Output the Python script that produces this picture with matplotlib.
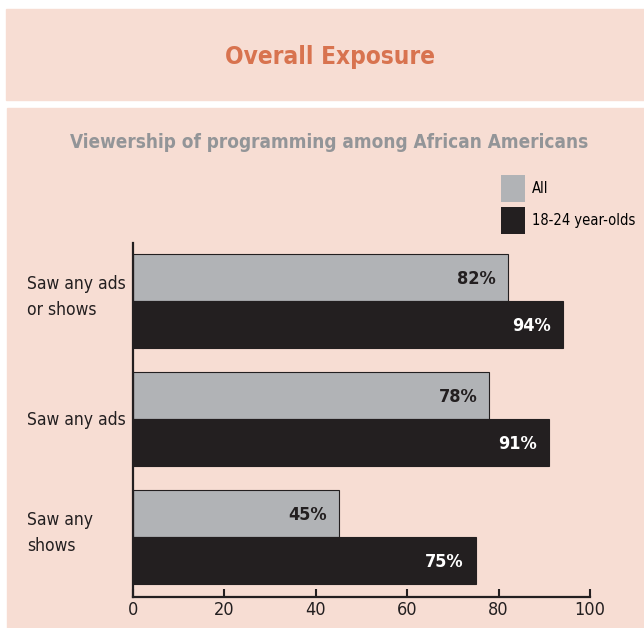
import matplotlib.pyplot as plt
import matplotlib.transforms as mtransforms
from matplotlib.patches import Rectangle, Patch

categories = ['Saw any\nshows', 'Saw any ads', 'Saw any ads\nor shows']
all_values = [45, 78, 82]
young_values = [75, 91, 94]
series_names = ['All', '18-24 year-olds']
x_ticks = [0, 20, 40, 60, 80, 100]

panel = '#F7DDD3'
gray = '#B1B3B6'
dark = '#231F20'
plt.rcParams['font.family'] = ['DejaVu Sans']
plt.rcParams['font.stretch'] = 'condensed'

W, H = 644, 628
fig = plt.figure(figsize=(W / 100, H / 100), dpi=100)
fig.patch.set_facecolor('white')

# background panels (pixel coords -> figure fraction)
fig.patches.append(Rectangle((6 / W, 1 - 100 / H), 638 / W, 91 / H,
                             transform=fig.transFigure, color=panel, zorder=-5))
fig.patches.append(Rectangle((7 / W, 0), 637 / W, 1 - 108 / H,
                             transform=fig.transFigure, color=panel, zorder=-5))

fig.text(330 / W, 1 - 57 / H, 'Overall Exposure', ha='center', va='center',
         fontsize=17.5, fontweight='bold', color='#D8734F')
fig.text(329 / W, 1 - 143 / H, 'Viewership of programming among African Americans',
         ha='center', va='center', fontsize=13.6, fontweight='bold', color='#939598')

ax = fig.add_axes([133 / W, 1 - 597 / H, 457 / W, 354 / H])
ax.set_facecolor('none')
ax.set_zorder(2)

h = 0.4
y = list(range(len(categories)))
b1 = ax.barh([v + h / 2 for v in y], all_values, height=h, color=gray,
             edgecolor=dark, linewidth=0.8)
b2 = ax.barh([v - h / 2 for v in y], young_values, height=h, color=dark,
             edgecolor=dark, linewidth=0.8)

for rect, v in zip(b1, all_values):
    ax.annotate(f'{v}%', (v, rect.get_y() + rect.get_height() / 2),
                xytext=(-12, -2), textcoords='offset pixels', ha='right', va='center',
                fontsize=13, fontweight='bold', color=dark)
for rect, v in zip(b2, young_values):
    ax.annotate(f'{v}%', (v, rect.get_y() + rect.get_height() / 2),
                xytext=(-12, -2), textcoords='offset pixels', ha='right', va='center',
                fontsize=13, fontweight='bold', color='white')

ax.set_xlim(0, 100)
ax.set_ylim(-0.51, 2.49)
ax.set_xticks(x_ticks)
ax.set_xticklabels([str(t) for t in x_ticks])
ax.set_yticks([])
ax.tick_params(axis='x', direction='in', length=6, width=1.5, color=dark,
               labelsize=13, labelcolor=dark, pad=3)

# category labels, left aligned at the panel's left margin
trans = mtransforms.blended_transform_factory(ax.transAxes, ax.transData)
for yi, cat in zip(y, categories):
    dy = 0.03 if '\n' in cat else -0.01
    ax.text(-106 / 457, yi + dy, cat, transform=trans, ha='left', va='center',
            fontsize=12.5, color=dark, linespacing=1.55)

for s in ['top', 'right']:
    ax.spines[s].set_visible(False)
for s in ['left', 'bottom']:
    ax.spines[s].set_linewidth(1.6)
    ax.spines[s].set_color(dark)

handles = [Patch(facecolor=gray, edgecolor='none'), Patch(facecolor=dark, edgecolor='none')]
fig.legend(handles, series_names, loc='upper left', bbox_to_anchor=(498 / W, 1 - 172 / H),
           frameon=False, fontsize=10.5, handlelength=1.65, handleheight=2.5,
           handletextpad=0.5, labelspacing=0.3, borderpad=0.2, borderaxespad=0)

fig.savefig('out.png', dpi=100, facecolor='white')
